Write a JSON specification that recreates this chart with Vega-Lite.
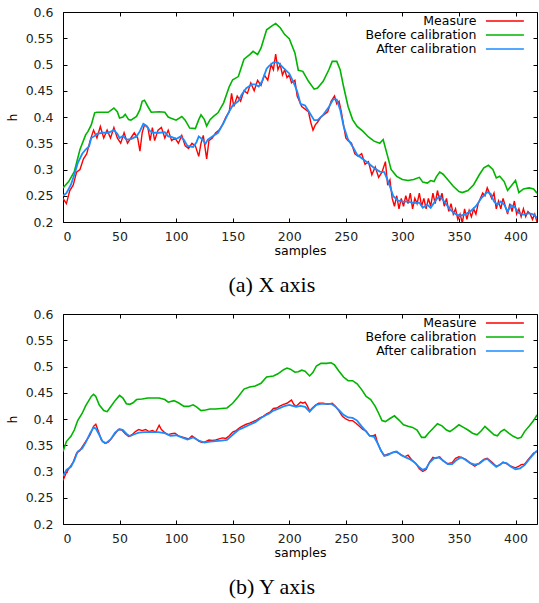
{
"$schema": "https://vega.github.io/schema/vega-lite/v6.json",
"padding": {"left": 5, "top": 5, "right": 0, "bottom": 0},
"background": "white",
"datasets": {
"a": [
{"series":"Measure","s":0,"h":0.245},{"series":"Measure","s":3,"h":0.235},{"series":"Measure","s":6,"h":0.26},{"series":"Measure","s":9,"h":0.27},{"series":"Measure","s":12,"h":0.295},{"series":"Measure","s":15,"h":0.30},{"series":"Measure","s":18,"h":0.32},{"series":"Measure","s":21,"h":0.33},{"series":"Measure","s":24,"h":0.355},{"series":"Measure","s":27,"h":0.375},{"series":"Measure","s":30,"h":0.36},{"series":"Measure","s":33,"h":0.382},{"series":"Measure","s":36,"h":0.36},{"series":"Measure","s":39,"h":0.375},{"series":"Measure","s":42,"h":0.36},{"series":"Measure","s":45,"h":0.38},{"series":"Measure","s":48,"h":0.36},{"series":"Measure","s":51,"h":0.35},{"series":"Measure","s":54,"h":0.37},{"series":"Measure","s":57,"h":0.35},{"series":"Measure","s":60,"h":0.36},{"series":"Measure","s":63,"h":0.37},{"series":"Measure","s":66,"h":0.36},{"series":"Measure","s":68,"h":0.335},{"series":"Measure","s":70,"h":0.37},{"series":"Measure","s":72,"h":0.385},{"series":"Measure","s":75,"h":0.38},{"series":"Measure","s":77,"h":0.355},{"series":"Measure","s":79,"h":0.38},{"series":"Measure","s":81,"h":0.355},{"series":"Measure","s":84,"h":0.375},{"series":"Measure","s":87,"h":0.38},{"series":"Measure","s":90,"h":0.36},{"series":"Measure","s":93,"h":0.375},{"series":"Measure","s":96,"h":0.355},{"series":"Measure","s":99,"h":0.36},{"series":"Measure","s":102,"h":0.35},{"series":"Measure","s":105,"h":0.365},{"series":"Measure","s":108,"h":0.345},{"series":"Measure","s":111,"h":0.34},{"series":"Measure","s":114,"h":0.35},{"series":"Measure","s":117,"h":0.345},{"series":"Measure","s":120,"h":0.325},{"series":"Measure","s":122,"h":0.35},{"series":"Measure","s":124,"h":0.365},{"series":"Measure","s":126,"h":0.335},{"series":"Measure","s":127,"h":0.32},{"series":"Measure","s":129,"h":0.355},{"series":"Measure","s":132,"h":0.36},{"series":"Measure","s":135,"h":0.37},{"series":"Measure","s":138,"h":0.375},{"series":"Measure","s":141,"h":0.385},{"series":"Measure","s":144,"h":0.40},{"series":"Measure","s":147,"h":0.41},{"series":"Measure","s":149,"h":0.445},{"series":"Measure","s":151,"h":0.42},{"series":"Measure","s":154,"h":0.44},{"series":"Measure","s":157,"h":0.43},{"series":"Measure","s":160,"h":0.45},{"series":"Measure","s":163,"h":0.445},{"series":"Measure","s":166,"h":0.465},{"series":"Measure","s":169,"h":0.45},{"series":"Measure","s":172,"h":0.47},{"series":"Measure","s":175,"h":0.46},{"series":"Measure","s":178,"h":0.48},{"series":"Measure","s":181,"h":0.47},{"series":"Measure","s":184,"h":0.50},{"series":"Measure","s":186,"h":0.49},{"series":"Measure","s":188,"h":0.52},{"series":"Measure","s":190,"h":0.49},{"series":"Measure","s":192,"h":0.50},{"series":"Measure","s":194,"h":0.48},{"series":"Measure","s":196,"h":0.49},{"series":"Measure","s":198,"h":0.475},{"series":"Measure","s":200,"h":0.48},{"series":"Measure","s":202,"h":0.465},{"series":"Measure","s":205,"h":0.47},{"series":"Measure","s":207,"h":0.44},{"series":"Measure","s":209,"h":0.43},{"series":"Measure","s":211,"h":0.42},{"series":"Measure","s":214,"h":0.415},{"series":"Measure","s":217,"h":0.41},{"series":"Measure","s":219,"h":0.39},{"series":"Measure","s":221,"h":0.375},{"series":"Measure","s":223,"h":0.385},{"series":"Measure","s":225,"h":0.39},{"series":"Measure","s":228,"h":0.40},{"series":"Measure","s":231,"h":0.405},{"series":"Measure","s":234,"h":0.41},{"series":"Measure","s":237,"h":0.43},{"series":"Measure","s":240,"h":0.44},{"series":"Measure","s":242,"h":0.425},{"series":"Measure","s":244,"h":0.43},{"series":"Measure","s":246,"h":0.41},{"series":"Measure","s":248,"h":0.385},{"series":"Measure","s":250,"h":0.36},{"series":"Measure","s":252,"h":0.355},{"series":"Measure","s":255,"h":0.35},{"series":"Measure","s":258,"h":0.33},{"series":"Measure","s":261,"h":0.325},{"series":"Measure","s":264,"h":0.33},{"series":"Measure","s":267,"h":0.31},{"series":"Measure","s":270,"h":0.315},{"series":"Measure","s":273,"h":0.29},{"series":"Measure","s":276,"h":0.305},{"series":"Measure","s":279,"h":0.285},{"series":"Measure","s":282,"h":0.295},{"series":"Measure","s":285,"h":0.315},{"series":"Measure","s":287,"h":0.27},{"series":"Measure","s":289,"h":0.28},{"series":"Measure","s":291,"h":0.245},{"series":"Measure","s":293,"h":0.23},{"series":"Measure","s":295,"h":0.25},{"series":"Measure","s":297,"h":0.225},{"series":"Measure","s":299,"h":0.245},{"series":"Measure","s":301,"h":0.23},{"series":"Measure","s":303,"h":0.25},{"series":"Measure","s":305,"h":0.235},{"series":"Measure","s":307,"h":0.255},{"series":"Measure","s":309,"h":0.225},{"series":"Measure","s":311,"h":0.245},{"series":"Measure","s":313,"h":0.235},{"series":"Measure","s":315,"h":0.255},{"series":"Measure","s":317,"h":0.23},{"series":"Measure","s":319,"h":0.245},{"series":"Measure","s":321,"h":0.225},{"series":"Measure","s":323,"h":0.245},{"series":"Measure","s":325,"h":0.23},{"series":"Measure","s":327,"h":0.255},{"series":"Measure","s":329,"h":0.235},{"series":"Measure","s":331,"h":0.26},{"series":"Measure","s":333,"h":0.24},{"series":"Measure","s":335,"h":0.255},{"series":"Measure","s":337,"h":0.23},{"series":"Measure","s":339,"h":0.245},{"series":"Measure","s":341,"h":0.22},{"series":"Measure","s":343,"h":0.235},{"series":"Measure","s":345,"h":0.215},{"series":"Measure","s":347,"h":0.225},{"series":"Measure","s":349,"h":0.205},{"series":"Measure","s":351,"h":0.215},{"series":"Measure","s":353,"h":0.198},{"series":"Measure","s":355,"h":0.225},{"series":"Measure","s":357,"h":0.205},{"series":"Measure","s":359,"h":0.222},{"series":"Measure","s":361,"h":0.21},{"series":"Measure","s":363,"h":0.225},{"series":"Measure","s":365,"h":0.215},{"series":"Measure","s":367,"h":0.235},{"series":"Measure","s":369,"h":0.245},{"series":"Measure","s":371,"h":0.255},{"series":"Measure","s":373,"h":0.25},{"series":"Measure","s":375,"h":0.265},{"series":"Measure","s":377,"h":0.255},{"series":"Measure","s":379,"h":0.245},{"series":"Measure","s":381,"h":0.255},{"series":"Measure","s":383,"h":0.225},{"series":"Measure","s":385,"h":0.24},{"series":"Measure","s":387,"h":0.225},{"series":"Measure","s":389,"h":0.245},{"series":"Measure","s":391,"h":0.23},{"series":"Measure","s":393,"h":0.215},{"series":"Measure","s":395,"h":0.235},{"series":"Measure","s":397,"h":0.22},{"series":"Measure","s":399,"h":0.24},{"series":"Measure","s":401,"h":0.215},{"series":"Measure","s":403,"h":0.225},{"series":"Measure","s":405,"h":0.21},{"series":"Measure","s":407,"h":0.225},{"series":"Measure","s":409,"h":0.21},{"series":"Measure","s":411,"h":0.22},{"series":"Measure","s":413,"h":0.215},{"series":"Measure","s":415,"h":0.205},{"series":"Measure","s":417,"h":0.215},{"series":"Measure","s":419,"h":0.2},
{"series":"Before calibration","s":0,"h":0.265},{"series":"Before calibration","s":5,"h":0.277},{"series":"Before calibration","s":10,"h":0.296},{"series":"Before calibration","s":15,"h":0.338},{"series":"Before calibration","s":20,"h":0.366},{"series":"Before calibration","s":22,"h":0.372},{"series":"Before calibration","s":25,"h":0.385},{"series":"Before calibration","s":28,"h":0.408},{"series":"Before calibration","s":30,"h":0.409},{"series":"Before calibration","s":35,"h":0.409},{"series":"Before calibration","s":40,"h":0.409},{"series":"Before calibration","s":45,"h":0.417},{"series":"Before calibration","s":48,"h":0.41},{"series":"Before calibration","s":50,"h":0.398},{"series":"Before calibration","s":53,"h":0.40},{"series":"Before calibration","s":55,"h":0.405},{"series":"Before calibration","s":58,"h":0.395},{"series":"Before calibration","s":60,"h":0.394},{"series":"Before calibration","s":65,"h":0.401},{"series":"Before calibration","s":68,"h":0.414},{"series":"Before calibration","s":70,"h":0.43},{"series":"Before calibration","s":72,"h":0.432},{"series":"Before calibration","s":75,"h":0.42},{"series":"Before calibration","s":78,"h":0.409},{"series":"Before calibration","s":85,"h":0.41},{"series":"Before calibration","s":90,"h":0.409},{"series":"Before calibration","s":93,"h":0.40},{"series":"Before calibration","s":95,"h":0.398},{"series":"Before calibration","s":100,"h":0.394},{"series":"Before calibration","s":105,"h":0.401},{"series":"Before calibration","s":108,"h":0.394},{"series":"Before calibration","s":112,"h":0.379},{"series":"Before calibration","s":117,"h":0.378},{"series":"Before calibration","s":120,"h":0.395},{"series":"Before calibration","s":122,"h":0.404},{"series":"Before calibration","s":125,"h":0.395},{"series":"Before calibration","s":127,"h":0.383},{"series":"Before calibration","s":130,"h":0.395},{"series":"Before calibration","s":133,"h":0.401},{"series":"Before calibration","s":137,"h":0.408},{"series":"Before calibration","s":142,"h":0.427},{"series":"Before calibration","s":147,"h":0.458},{"series":"Before calibration","s":150,"h":0.471},{"series":"Before calibration","s":155,"h":0.477},{"series":"Before calibration","s":160,"h":0.51},{"series":"Before calibration","s":165,"h":0.519},{"series":"Before calibration","s":168,"h":0.525},{"series":"Before calibration","s":172,"h":0.519},{"series":"Before calibration","s":175,"h":0.531},{"series":"Before calibration","s":180,"h":0.566},{"series":"Before calibration","s":185,"h":0.574},{"series":"Before calibration","s":188,"h":0.578},{"series":"Before calibration","s":192,"h":0.57},{"series":"Before calibration","s":196,"h":0.557},{"series":"Before calibration","s":200,"h":0.549},{"series":"Before calibration","s":205,"h":0.522},{"series":"Before calibration","s":208,"h":0.489},{"series":"Before calibration","s":212,"h":0.487},{"series":"Before calibration","s":217,"h":0.468},{"series":"Before calibration","s":222,"h":0.453},{"series":"Before calibration","s":225,"h":0.455},{"series":"Before calibration","s":230,"h":0.468},{"series":"Before calibration","s":235,"h":0.49},{"series":"Before calibration","s":238,"h":0.506},{"series":"Before calibration","s":242,"h":0.506},{"series":"Before calibration","s":245,"h":0.49},{"series":"Before calibration","s":248,"h":0.458},{"series":"Before calibration","s":252,"h":0.42},{"series":"Before calibration","s":256,"h":0.395},{"series":"Before calibration","s":260,"h":0.382},{"series":"Before calibration","s":265,"h":0.373},{"series":"Before calibration","s":270,"h":0.362},{"series":"Before calibration","s":275,"h":0.354},{"series":"Before calibration","s":280,"h":0.35},{"series":"Before calibration","s":283,"h":0.357},{"series":"Before calibration","s":287,"h":0.325},{"series":"Before calibration","s":290,"h":0.30},{"series":"Before calibration","s":295,"h":0.287},{"series":"Before calibration","s":300,"h":0.281},{"series":"Before calibration","s":305,"h":0.279},{"series":"Before calibration","s":310,"h":0.281},{"series":"Before calibration","s":315,"h":0.285},{"series":"Before calibration","s":318,"h":0.276},{"series":"Before calibration","s":322,"h":0.274},{"series":"Before calibration","s":325,"h":0.279},{"series":"Before calibration","s":328,"h":0.277},{"series":"Before calibration","s":330,"h":0.286},{"series":"Before calibration","s":333,"h":0.295},{"series":"Before calibration","s":336,"h":0.291},{"series":"Before calibration","s":340,"h":0.281},{"series":"Before calibration","s":345,"h":0.268},{"series":"Before calibration","s":350,"h":0.258},{"series":"Before calibration","s":353,"h":0.256},{"series":"Before calibration","s":358,"h":0.26},{"series":"Before calibration","s":363,"h":0.271},{"series":"Before calibration","s":368,"h":0.29},{"series":"Before calibration","s":372,"h":0.303},{"series":"Before calibration","s":376,"h":0.308},{"series":"Before calibration","s":380,"h":0.30},{"series":"Before calibration","s":383,"h":0.284},{"series":"Before calibration","s":386,"h":0.287},{"series":"Before calibration","s":390,"h":0.277},{"series":"Before calibration","s":393,"h":0.26},{"series":"Before calibration","s":397,"h":0.271},{"series":"Before calibration","s":400,"h":0.279},{"series":"Before calibration","s":403,"h":0.256},{"series":"Before calibration","s":407,"h":0.263},{"series":"Before calibration","s":412,"h":0.265},{"series":"Before calibration","s":416,"h":0.263},{"series":"Before calibration","s":419,"h":0.255},
{"series":"After calibration","s":0,"h":0.25},{"series":"After calibration","s":3,"h":0.255},{"series":"After calibration","s":7,"h":0.271},{"series":"After calibration","s":10,"h":0.29},{"series":"After calibration","s":13,"h":0.312},{"series":"After calibration","s":17,"h":0.33},{"series":"After calibration","s":20,"h":0.338},{"series":"After calibration","s":23,"h":0.344},{"series":"After calibration","s":25,"h":0.36},{"series":"After calibration","s":28,"h":0.364},{"series":"After calibration","s":30,"h":0.368},{"series":"After calibration","s":35,"h":0.37},{"series":"After calibration","s":40,"h":0.37},{"series":"After calibration","s":45,"h":0.375},{"series":"After calibration","s":48,"h":0.368},{"series":"After calibration","s":50,"h":0.36},{"series":"After calibration","s":53,"h":0.364},{"series":"After calibration","s":56,"h":0.357},{"series":"After calibration","s":60,"h":0.358},{"series":"After calibration","s":65,"h":0.363},{"series":"After calibration","s":68,"h":0.373},{"series":"After calibration","s":71,"h":0.387},{"series":"After calibration","s":74,"h":0.383},{"series":"After calibration","s":77,"h":0.373},{"series":"After calibration","s":80,"h":0.37},{"series":"After calibration","s":85,"h":0.37},{"series":"After calibration","s":90,"h":0.371},{"series":"After calibration","s":93,"h":0.363},{"series":"After calibration","s":96,"h":0.362},{"series":"After calibration","s":100,"h":0.358},{"series":"After calibration","s":104,"h":0.363},{"series":"After calibration","s":107,"h":0.356},{"series":"After calibration","s":110,"h":0.345},{"series":"After calibration","s":115,"h":0.343},{"series":"After calibration","s":118,"h":0.352},{"series":"After calibration","s":120,"h":0.363},{"series":"After calibration","s":123,"h":0.358},{"series":"After calibration","s":126,"h":0.349},{"series":"After calibration","s":128,"h":0.357},{"series":"After calibration","s":132,"h":0.363},{"series":"After calibration","s":137,"h":0.37},{"series":"After calibration","s":142,"h":0.389},{"series":"After calibration","s":147,"h":0.411},{"series":"After calibration","s":150,"h":0.422},{"series":"After calibration","s":155,"h":0.43},{"series":"After calibration","s":158,"h":0.443},{"series":"After calibration","s":162,"h":0.455},{"series":"After calibration","s":167,"h":0.462},{"series":"After calibration","s":170,"h":0.462},{"series":"After calibration","s":173,"h":0.458},{"series":"After calibration","s":176,"h":0.468},{"series":"After calibration","s":180,"h":0.492},{"series":"After calibration","s":182,"h":0.497},{"series":"After calibration","s":186,"h":0.504},{"series":"After calibration","s":190,"h":0.504},{"series":"After calibration","s":195,"h":0.493},{"series":"After calibration","s":200,"h":0.483},{"series":"After calibration","s":204,"h":0.465},{"series":"After calibration","s":207,"h":0.449},{"series":"After calibration","s":210,"h":0.425},{"series":"After calibration","s":214,"h":0.422},{"series":"After calibration","s":218,"h":0.408},{"series":"After calibration","s":222,"h":0.394},{"series":"After calibration","s":225,"h":0.394},{"series":"After calibration","s":230,"h":0.404},{"series":"After calibration","s":235,"h":0.419},{"series":"After calibration","s":239,"h":0.434},{"series":"After calibration","s":242,"h":0.433},{"series":"After calibration","s":245,"h":0.414},{"series":"After calibration","s":248,"h":0.383},{"series":"After calibration","s":252,"h":0.357},{"series":"After calibration","s":256,"h":0.344},{"series":"After calibration","s":260,"h":0.328},{"series":"After calibration","s":265,"h":0.32},{"series":"After calibration","s":270,"h":0.312},{"series":"After calibration","s":275,"h":0.303},{"series":"After calibration","s":280,"h":0.296},{"series":"After calibration","s":284,"h":0.295},{"series":"After calibration","s":288,"h":0.274},{"series":"After calibration","s":292,"h":0.249},{"series":"After calibration","s":296,"h":0.241},{"series":"After calibration","s":300,"h":0.239},{"series":"After calibration","s":305,"h":0.239},{"series":"After calibration","s":310,"h":0.236},{"series":"After calibration","s":315,"h":0.237},{"series":"After calibration","s":318,"h":0.227},{"series":"After calibration","s":322,"h":0.233},{"series":"After calibration","s":325,"h":0.227},{"series":"After calibration","s":330,"h":0.243},{"series":"After calibration","s":333,"h":0.249},{"series":"After calibration","s":337,"h":0.239},{"series":"After calibration","s":342,"h":0.224},{"series":"After calibration","s":347,"h":0.215},{"series":"After calibration","s":351,"h":0.212},{"series":"After calibration","s":355,"h":0.214},{"series":"After calibration","s":360,"h":0.22},{"series":"After calibration","s":365,"h":0.23},{"series":"After calibration","s":370,"h":0.246},{"series":"After calibration","s":375,"h":0.257},{"series":"After calibration","s":378,"h":0.254},{"series":"After calibration","s":381,"h":0.239},{"series":"After calibration","s":384,"h":0.233},{"series":"After calibration","s":387,"h":0.239},{"series":"After calibration","s":390,"h":0.233},{"series":"After calibration","s":393,"h":0.22},{"series":"After calibration","s":396,"h":0.232},{"series":"After calibration","s":399,"h":0.229},{"series":"After calibration","s":403,"h":0.217},{"series":"After calibration","s":407,"h":0.214},{"series":"After calibration","s":412,"h":0.217},{"series":"After calibration","s":416,"h":0.214},{"series":"After calibration","s":419,"h":0.208}
],
"b": [
{"series":"Measure","s":0,"h":0.283},{"series":"Measure","s":3,"h":0.298},{"series":"Measure","s":6,"h":0.308},{"series":"Measure","s":9,"h":0.318},{"series":"Measure","s":12,"h":0.335},{"series":"Measure","s":15,"h":0.34},{"series":"Measure","s":18,"h":0.35},{"series":"Measure","s":21,"h":0.36},{"series":"Measure","s":24,"h":0.37},{"series":"Measure","s":27,"h":0.386},{"series":"Measure","s":29,"h":0.39},{"series":"Measure","s":31,"h":0.378},{"series":"Measure","s":34,"h":0.36},{"series":"Measure","s":37,"h":0.354},{"series":"Measure","s":40,"h":0.356},{"series":"Measure","s":43,"h":0.363},{"series":"Measure","s":46,"h":0.372},{"series":"Measure","s":49,"h":0.38},{"series":"Measure","s":52,"h":0.379},{"series":"Measure","s":55,"h":0.372},{"series":"Measure","s":58,"h":0.367},{"series":"Measure","s":61,"h":0.37},{"series":"Measure","s":64,"h":0.376},{"series":"Measure","s":67,"h":0.38},{"series":"Measure","s":70,"h":0.378},{"series":"Measure","s":73,"h":0.38},{"series":"Measure","s":76,"h":0.376},{"series":"Measure","s":79,"h":0.378},{"series":"Measure","s":82,"h":0.375},{"series":"Measure","s":85,"h":0.388},{"series":"Measure","s":87,"h":0.38},{"series":"Measure","s":90,"h":0.374},{"series":"Measure","s":93,"h":0.37},{"series":"Measure","s":96,"h":0.372},{"series":"Measure","s":99,"h":0.373},{"series":"Measure","s":102,"h":0.368},{"series":"Measure","s":105,"h":0.366},{"series":"Measure","s":108,"h":0.364},{"series":"Measure","s":111,"h":0.362},{"series":"Measure","s":114,"h":0.368},{"series":"Measure","s":117,"h":0.363},{"series":"Measure","s":120,"h":0.358},{"series":"Measure","s":123,"h":0.355},{"series":"Measure","s":126,"h":0.357},{"series":"Measure","s":129,"h":0.36},{"series":"Measure","s":132,"h":0.359},{"series":"Measure","s":135,"h":0.36},{"series":"Measure","s":138,"h":0.362},{"series":"Measure","s":141,"h":0.364},{"series":"Measure","s":144,"h":0.363},{"series":"Measure","s":147,"h":0.368},{"series":"Measure","s":150,"h":0.375},{"series":"Measure","s":153,"h":0.378},{"series":"Measure","s":156,"h":0.383},{"series":"Measure","s":159,"h":0.387},{"series":"Measure","s":162,"h":0.39},{"series":"Measure","s":165,"h":0.392},{"series":"Measure","s":168,"h":0.395},{"series":"Measure","s":171,"h":0.398},{"series":"Measure","s":174,"h":0.402},{"series":"Measure","s":177,"h":0.405},{"series":"Measure","s":180,"h":0.41},{"series":"Measure","s":183,"h":0.413},{"series":"Measure","s":186,"h":0.42},{"series":"Measure","s":189,"h":0.421},{"series":"Measure","s":192,"h":0.425},{"series":"Measure","s":195,"h":0.428},{"series":"Measure","s":198,"h":0.43},{"series":"Measure","s":200,"h":0.433},{"series":"Measure","s":202,"h":0.436},{"series":"Measure","s":204,"h":0.428},{"series":"Measure","s":206,"h":0.424},{"series":"Measure","s":208,"h":0.428},{"series":"Measure","s":210,"h":0.432},{"series":"Measure","s":212,"h":0.43},{"series":"Measure","s":214,"h":0.432},{"series":"Measure","s":216,"h":0.425},{"series":"Measure","s":218,"h":0.415},{"series":"Measure","s":220,"h":0.42},{"series":"Measure","s":223,"h":0.426},{"series":"Measure","s":226,"h":0.43},{"series":"Measure","s":230,"h":0.43},{"series":"Measure","s":234,"h":0.428},{"series":"Measure","s":238,"h":0.43},{"series":"Measure","s":241,"h":0.424},{"series":"Measure","s":244,"h":0.415},{"series":"Measure","s":247,"h":0.405},{"series":"Measure","s":250,"h":0.40},{"series":"Measure","s":253,"h":0.397},{"series":"Measure","s":256,"h":0.397},{"series":"Measure","s":259,"h":0.392},{"series":"Measure","s":262,"h":0.386},{"series":"Measure","s":265,"h":0.38},{"series":"Measure","s":268,"h":0.377},{"series":"Measure","s":271,"h":0.368},{"series":"Measure","s":274,"h":0.368},{"series":"Measure","s":276,"h":0.37},{"series":"Measure","s":278,"h":0.355},{"series":"Measure","s":281,"h":0.34},{"series":"Measure","s":284,"h":0.33},{"series":"Measure","s":287,"h":0.333},{"series":"Measure","s":290,"h":0.335},{"series":"Measure","s":294,"h":0.338},{"series":"Measure","s":298,"h":0.333},{"series":"Measure","s":302,"h":0.328},{"series":"Measure","s":305,"h":0.331},{"series":"Measure","s":308,"h":0.323},{"series":"Measure","s":312,"h":0.315},{"series":"Measure","s":315,"h":0.305},{"series":"Measure","s":318,"h":0.30},{"series":"Measure","s":321,"h":0.304},{"series":"Measure","s":324,"h":0.318},{"series":"Measure","s":327,"h":0.327},{"series":"Measure","s":330,"h":0.325},{"series":"Measure","s":333,"h":0.328},{"series":"Measure","s":336,"h":0.32},{"series":"Measure","s":340,"h":0.315},{"series":"Measure","s":344,"h":0.317},{"series":"Measure","s":347,"h":0.325},{"series":"Measure","s":350,"h":0.328},{"series":"Measure","s":353,"h":0.326},{"series":"Measure","s":356,"h":0.323},{"series":"Measure","s":360,"h":0.316},{"series":"Measure","s":364,"h":0.31},{"series":"Measure","s":368,"h":0.316},{"series":"Measure","s":372,"h":0.323},{"series":"Measure","s":375,"h":0.325},{"series":"Measure","s":379,"h":0.318},{"series":"Measure","s":383,"h":0.31},{"series":"Measure","s":386,"h":0.312},{"series":"Measure","s":389,"h":0.318},{"series":"Measure","s":392,"h":0.315},{"series":"Measure","s":396,"h":0.31},{"series":"Measure","s":400,"h":0.307},{"series":"Measure","s":403,"h":0.31},{"series":"Measure","s":405,"h":0.313},{"series":"Measure","s":408,"h":0.314},{"series":"Measure","s":412,"h":0.325},{"series":"Measure","s":416,"h":0.335},{"series":"Measure","s":419,"h":0.338},
{"series":"Before calibration","s":0,"h":0.338},{"series":"Before calibration","s":3,"h":0.357},{"series":"Before calibration","s":7,"h":0.367},{"series":"Before calibration","s":10,"h":0.379},{"series":"Before calibration","s":13,"h":0.397},{"series":"Before calibration","s":17,"h":0.411},{"series":"Before calibration","s":20,"h":0.425},{"series":"Before calibration","s":25,"h":0.443},{"series":"Before calibration","s":27,"h":0.447},{"series":"Before calibration","s":29,"h":0.443},{"series":"Before calibration","s":32,"h":0.427},{"series":"Before calibration","s":36,"h":0.416},{"series":"Before calibration","s":39,"h":0.414},{"series":"Before calibration","s":42,"h":0.423},{"series":"Before calibration","s":46,"h":0.435},{"series":"Before calibration","s":50,"h":0.445},{"series":"Before calibration","s":53,"h":0.44},{"series":"Before calibration","s":56,"h":0.429},{"series":"Before calibration","s":59,"h":0.428},{"series":"Before calibration","s":62,"h":0.431},{"series":"Before calibration","s":65,"h":0.437},{"series":"Before calibration","s":70,"h":0.438},{"series":"Before calibration","s":75,"h":0.44},{"series":"Before calibration","s":80,"h":0.44},{"series":"Before calibration","s":85,"h":0.44},{"series":"Before calibration","s":90,"h":0.437},{"series":"Before calibration","s":93,"h":0.432},{"series":"Before calibration","s":98,"h":0.435},{"series":"Before calibration","s":102,"h":0.431},{"series":"Before calibration","s":107,"h":0.424},{"series":"Before calibration","s":111,"h":0.424},{"series":"Before calibration","s":115,"h":0.427},{"series":"Before calibration","s":118,"h":0.423},{"series":"Before calibration","s":122,"h":0.416},{"series":"Before calibration","s":126,"h":0.417},{"series":"Before calibration","s":130,"h":0.419},{"series":"Before calibration","s":135,"h":0.419},{"series":"Before calibration","s":140,"h":0.42},{"series":"Before calibration","s":145,"h":0.421},{"series":"Before calibration","s":150,"h":0.43},{"series":"Before calibration","s":155,"h":0.443},{"series":"Before calibration","s":160,"h":0.457},{"series":"Before calibration","s":165,"h":0.461},{"series":"Before calibration","s":170,"h":0.463},{"series":"Before calibration","s":175,"h":0.468},{"series":"Before calibration","s":180,"h":0.48},{"series":"Before calibration","s":186,"h":0.482},{"series":"Before calibration","s":190,"h":0.486},{"series":"Before calibration","s":195,"h":0.494},{"series":"Before calibration","s":198,"h":0.497},{"series":"Before calibration","s":201,"h":0.495},{"series":"Before calibration","s":205,"h":0.489},{"series":"Before calibration","s":208,"h":0.49},{"series":"Before calibration","s":211,"h":0.493},{"series":"Before calibration","s":214,"h":0.491},{"series":"Before calibration","s":218,"h":0.482},{"series":"Before calibration","s":221,"h":0.489},{"series":"Before calibration","s":224,"h":0.501},{"series":"Before calibration","s":228,"h":0.506},{"series":"Before calibration","s":233,"h":0.506},{"series":"Before calibration","s":237,"h":0.507},{"series":"Before calibration","s":240,"h":0.503},{"series":"Before calibration","s":244,"h":0.491},{"series":"Before calibration","s":248,"h":0.48},{"series":"Before calibration","s":252,"h":0.473},{"series":"Before calibration","s":256,"h":0.473},{"series":"Before calibration","s":260,"h":0.467},{"series":"Before calibration","s":264,"h":0.456},{"series":"Before calibration","s":268,"h":0.443},{"series":"Before calibration","s":272,"h":0.437},{"series":"Before calibration","s":276,"h":0.424},{"series":"Before calibration","s":279,"h":0.411},{"series":"Before calibration","s":282,"h":0.397},{"series":"Before calibration","s":285,"h":0.395},{"series":"Before calibration","s":289,"h":0.401},{"series":"Before calibration","s":293,"h":0.406},{"series":"Before calibration","s":297,"h":0.398},{"series":"Before calibration","s":301,"h":0.389},{"series":"Before calibration","s":305,"h":0.386},{"series":"Before calibration","s":309,"h":0.384},{"series":"Before calibration","s":313,"h":0.379},{"series":"Before calibration","s":317,"h":0.365},{"series":"Before calibration","s":320,"h":0.365},{"series":"Before calibration","s":323,"h":0.373},{"series":"Before calibration","s":327,"h":0.382},{"series":"Before calibration","s":331,"h":0.391},{"series":"Before calibration","s":335,"h":0.387},{"series":"Before calibration","s":339,"h":0.379},{"series":"Before calibration","s":342,"h":0.376},{"series":"Before calibration","s":346,"h":0.382},{"series":"Before calibration","s":350,"h":0.389},{"series":"Before calibration","s":354,"h":0.384},{"series":"Before calibration","s":358,"h":0.379},{"series":"Before calibration","s":362,"h":0.373},{"series":"Before calibration","s":366,"h":0.37},{"series":"Before calibration","s":370,"h":0.378},{"series":"Before calibration","s":373,"h":0.386},{"series":"Before calibration","s":377,"h":0.378},{"series":"Before calibration","s":381,"h":0.37},{"series":"Before calibration","s":384,"h":0.368},{"series":"Before calibration","s":387,"h":0.376},{"series":"Before calibration","s":390,"h":0.38},{"series":"Before calibration","s":394,"h":0.373},{"series":"Before calibration","s":398,"h":0.367},{"series":"Before calibration","s":402,"h":0.363},{"series":"Before calibration","s":405,"h":0.365},{"series":"Before calibration","s":408,"h":0.376},{"series":"Before calibration","s":412,"h":0.386},{"series":"Before calibration","s":416,"h":0.397},{"series":"Before calibration","s":419,"h":0.408},
{"series":"After calibration","s":0,"h":0.291},{"series":"After calibration","s":3,"h":0.303},{"series":"After calibration","s":7,"h":0.309},{"series":"After calibration","s":10,"h":0.321},{"series":"After calibration","s":13,"h":0.338},{"series":"After calibration","s":17,"h":0.344},{"series":"After calibration","s":20,"h":0.355},{"series":"After calibration","s":24,"h":0.373},{"series":"After calibration","s":27,"h":0.384},{"series":"After calibration","s":29,"h":0.382},{"series":"After calibration","s":32,"h":0.37},{"series":"After calibration","s":35,"h":0.357},{"series":"After calibration","s":38,"h":0.354},{"series":"After calibration","s":42,"h":0.361},{"series":"After calibration","s":46,"h":0.374},{"series":"After calibration","s":50,"h":0.381},{"series":"After calibration","s":53,"h":0.379},{"series":"After calibration","s":56,"h":0.372},{"series":"After calibration","s":59,"h":0.367},{"series":"After calibration","s":63,"h":0.371},{"series":"After calibration","s":67,"h":0.374},{"series":"After calibration","s":72,"h":0.375},{"series":"After calibration","s":78,"h":0.375},{"series":"After calibration","s":84,"h":0.375},{"series":"After calibration","s":90,"h":0.373},{"series":"After calibration","s":95,"h":0.368},{"series":"After calibration","s":100,"h":0.369},{"series":"After calibration","s":105,"h":0.365},{"series":"After calibration","s":110,"h":0.361},{"series":"After calibration","s":115,"h":0.365},{"series":"After calibration","s":120,"h":0.359},{"series":"After calibration","s":125,"h":0.355},{"series":"After calibration","s":130,"h":0.357},{"series":"After calibration","s":135,"h":0.358},{"series":"After calibration","s":140,"h":0.359},{"series":"After calibration","s":145,"h":0.36},{"series":"After calibration","s":150,"h":0.37},{"series":"After calibration","s":155,"h":0.379},{"series":"After calibration","s":160,"h":0.384},{"series":"After calibration","s":165,"h":0.389},{"series":"After calibration","s":170,"h":0.394},{"series":"After calibration","s":175,"h":0.402},{"series":"After calibration","s":180,"h":0.408},{"series":"After calibration","s":182,"h":0.41},{"series":"After calibration","s":186,"h":0.416},{"series":"After calibration","s":190,"h":0.419},{"series":"After calibration","s":195,"h":0.424},{"series":"After calibration","s":200,"h":0.427},{"series":"After calibration","s":203,"h":0.425},{"series":"After calibration","s":206,"h":0.423},{"series":"After calibration","s":210,"h":0.425},{"series":"After calibration","s":214,"h":0.423},{"series":"After calibration","s":218,"h":0.414},{"series":"After calibration","s":221,"h":0.421},{"series":"After calibration","s":224,"h":0.427},{"series":"After calibration","s":228,"h":0.429},{"series":"After calibration","s":233,"h":0.429},{"series":"After calibration","s":237,"h":0.429},{"series":"After calibration","s":240,"h":0.425},{"series":"After calibration","s":244,"h":0.417},{"series":"After calibration","s":248,"h":0.408},{"series":"After calibration","s":252,"h":0.403},{"series":"After calibration","s":256,"h":0.402},{"series":"After calibration","s":260,"h":0.397},{"series":"After calibration","s":264,"h":0.386},{"series":"After calibration","s":268,"h":0.376},{"series":"After calibration","s":271,"h":0.368},{"series":"After calibration","s":275,"h":0.366},{"series":"After calibration","s":278,"h":0.354},{"series":"After calibration","s":281,"h":0.34},{"series":"After calibration","s":284,"h":0.33},{"series":"After calibration","s":287,"h":0.331},{"series":"After calibration","s":291,"h":0.336},{"series":"After calibration","s":295,"h":0.338},{"series":"After calibration","s":299,"h":0.331},{"series":"After calibration","s":303,"h":0.327},{"series":"After calibration","s":307,"h":0.323},{"series":"After calibration","s":311,"h":0.317},{"series":"After calibration","s":315,"h":0.308},{"series":"After calibration","s":318,"h":0.303},{"series":"After calibration","s":321,"h":0.306},{"series":"After calibration","s":324,"h":0.317},{"series":"After calibration","s":328,"h":0.325},{"series":"After calibration","s":332,"h":0.327},{"series":"After calibration","s":336,"h":0.321},{"series":"After calibration","s":340,"h":0.314},{"series":"After calibration","s":344,"h":0.314},{"series":"After calibration","s":348,"h":0.322},{"series":"After calibration","s":352,"h":0.327},{"series":"After calibration","s":356,"h":0.322},{"series":"After calibration","s":360,"h":0.316},{"series":"After calibration","s":364,"h":0.313},{"series":"After calibration","s":368,"h":0.315},{"series":"After calibration","s":372,"h":0.322},{"series":"After calibration","s":375,"h":0.324},{"series":"After calibration","s":379,"h":0.316},{"series":"After calibration","s":383,"h":0.309},{"series":"After calibration","s":386,"h":0.313},{"series":"After calibration","s":389,"h":0.317},{"series":"After calibration","s":392,"h":0.316},{"series":"After calibration","s":396,"h":0.309},{"series":"After calibration","s":400,"h":0.304},{"series":"After calibration","s":404,"h":0.306},{"series":"After calibration","s":408,"h":0.312},{"series":"After calibration","s":412,"h":0.323},{"series":"After calibration","s":416,"h":0.333},{"series":"After calibration","s":419,"h":0.34}
]
},
"vconcat": [
{
"width": 474, "height": 210,
"title": {"text": "(a) X axis", "orient": "bottom", "anchor": "middle", "frame": "bounds", "font": "Liberation Serif", "fontSize": 22, "fontWeight": "normal", "color": "black", "offset": 18},
"data": {"name": "a"},
"layer": [
{"mark": {"type": "line", "clip": true},
 "encoding": {
  "x": {"field": "s", "type": "quantitative", "scale": {"domain": [0, 419], "nice": false}, "axis": {"orient": "bottom", "values": [0,50,100,150,200,250,300,350,400], "title": "samples", "labelPadding": 12, "titlePadding": 2}},
  "y": {"field": "h", "type": "quantitative", "scale": {"domain": [0.2, 0.6], "nice": false, "zero": false}, "axis": {"orient": "left", "values": [0.2,0.25,0.3,0.35,0.4,0.45,0.5,0.55,0.6], "format": ".2~f", "title": "h", "labelPadding": 14, "titlePadding": 6}},
  "color": {"field": "series", "type": "nominal", "sort": null, "scale": {"domain": ["Measure", "Before calibration", "After calibration"], "range": ["#ff0000", "#00b400", "#1a8cff"]},
   "legend": {"orient": "none", "legendX": 434.4, "legendY": 1.6, "title": null, "labelFont": "DejaVu Sans", "labelFontSize": 12.5, "labelColor": "black", "labelAlign": "right", "labelOffset": -36, "symbolType": "M-3,0H3", "symbolSize": 160, "symbolStrokeWidth": 1.5, "rowPadding": 0, "padding": 0}},
  "strokeWidth": {"field": "series", "type": "nominal", "scale": {"domain": ["Measure", "Before calibration", "After calibration"], "range": [1.4, 1.8, 2.4]}, "legend": null}
 }},
{"mark": {"type": "line", "strokeOpacity": 0},
 "encoding": {
  "x": {"field": "s", "type": "quantitative", "axis": {"orient": "top", "values": [0,50,100,150,200,250,300,350,400], "labels": false, "title": null}},
  "y": {"field": "h", "type": "quantitative", "axis": {"orient": "right", "values": [0.2,0.25,0.3,0.35,0.4,0.45,0.5,0.55,0.6], "labels": false, "title": null}},
  "detail": {"field": "series"}
 }}
]
},
{
"width": 474, "height": 210,
"title": {"text": "(b) Y axis", "orient": "bottom", "anchor": "middle", "frame": "bounds", "font": "Liberation Serif", "fontSize": 22, "fontWeight": "normal", "color": "black", "offset": 18},
"data": {"name": "b"},
"layer": [
{"mark": {"type": "line", "clip": true},
 "encoding": {
  "x": {"field": "s", "type": "quantitative", "scale": {"domain": [0, 419], "nice": false}, "axis": {"orient": "bottom", "values": [0,50,100,150,200,250,300,350,400], "title": "samples", "labelPadding": 12, "titlePadding": 2}},
  "y": {"field": "h", "type": "quantitative", "scale": {"domain": [0.2, 0.6], "nice": false, "zero": false}, "axis": {"orient": "left", "values": [0.2,0.25,0.3,0.35,0.4,0.45,0.5,0.55,0.6], "format": ".2~f", "title": "h", "labelPadding": 14, "titlePadding": 6}},
  "color": {"field": "series", "type": "nominal", "sort": null, "scale": {"domain": ["Measure", "Before calibration", "After calibration"], "range": ["#ff0000", "#00b400", "#1a8cff"]},
   "legend": {"orient": "none", "legendX": 434.4, "legendY": 1.6, "title": null, "labelFont": "DejaVu Sans", "labelFontSize": 12.5, "labelColor": "black", "labelAlign": "right", "labelOffset": -36, "symbolType": "M-3,0H3", "symbolSize": 160, "symbolStrokeWidth": 1.5, "rowPadding": 0, "padding": 0}},
  "strokeWidth": {"field": "series", "type": "nominal", "scale": {"domain": ["Measure", "Before calibration", "After calibration"], "range": [1.4, 1.8, 2.4]}, "legend": null}
 }},
{"mark": {"type": "line", "strokeOpacity": 0},
 "encoding": {
  "x": {"field": "s", "type": "quantitative", "axis": {"orient": "top", "values": [0,50,100,150,200,250,300,350,400], "labels": false, "title": null}},
  "y": {"field": "h", "type": "quantitative", "axis": {"orient": "right", "values": [0.2,0.25,0.3,0.35,0.4,0.45,0.5,0.55,0.6], "labels": false, "title": null}},
  "detail": {"field": "series"}
 }}
]
}
],
"spacing": 10,
"resolve": {"legend": {"color": "independent"}},
"config": {
 "font": "DejaVu Sans",
 "view": {"stroke": "black", "strokeWidth": 1},
 "axis": {"domain": false, "grid": false, "tickColor": "black", "tickSize": -4, "tickWidth": 1, "labelFont": "DejaVu Sans", "labelFontSize": 12.5, "labelColor": "#222222", "titleFont": "DejaVu Sans", "titleFontSize": 12.5, "titleFontWeight": "normal", "titleColor": "black"}
}
}
